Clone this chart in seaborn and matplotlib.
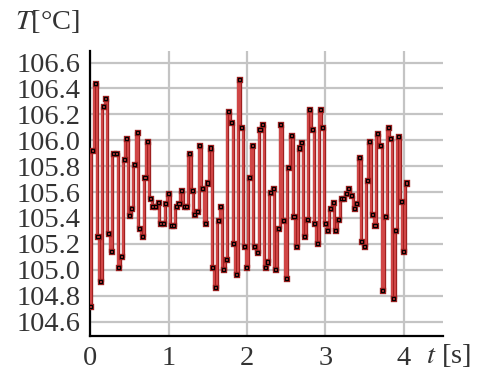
import numpy as np
import pandas as pd
import matplotlib
matplotlib.use("Agg")
import matplotlib.pyplot as plt
import matplotlib.patheffects as pe
from matplotlib.ticker import MultipleLocator
import seaborn as sns

# sampling interval (s) and measured temperatures (°C)
dt = 1.0 / 30.0
temps = [
    104.72, 105.92, 106.44, 105.26, 104.91, 106.26, 106.32, 105.28, 105.14, 105.90,
    105.90, 105.02, 105.10, 105.85, 106.01, 105.42, 105.47, 105.81, 106.06, 105.32,
    105.26, 105.71, 105.99, 105.55, 105.49, 105.49, 105.52, 105.36, 105.36, 105.51,
    105.59, 105.34, 105.34, 105.49, 105.51, 105.61, 105.49, 105.49, 105.90, 105.61,
    105.43, 105.45, 105.96, 105.63, 105.36, 105.67, 105.94, 105.02, 104.86, 105.38,
    105.49, 105.00, 105.08, 106.22, 106.14, 105.20, 104.96, 106.47, 106.10, 105.18,
    105.02, 105.71, 105.96, 105.18, 105.13, 106.08, 106.12, 105.02, 105.06, 105.60,
    105.63, 105.00, 105.32, 106.12, 105.38, 104.93, 105.79, 106.04, 105.41, 105.18,
    105.94, 105.98, 105.26, 105.39, 106.24, 106.08, 105.36, 105.20, 106.24, 106.10,
    105.36, 105.30, 105.47, 105.52, 105.30, 105.39, 105.55, 105.55, 105.59, 105.63,
    105.57, 105.47, 105.51, 105.87, 105.22, 105.18, 105.69, 105.99, 105.43, 105.34,
    106.05, 105.96, 104.84, 105.41, 106.10, 106.01, 104.78, 105.30, 106.03, 105.53,
    105.14, 105.67,
]
times = [i * dt for i in range(len(temps))]
x_ticks = [0, 1, 2, 3, 4]
y_ticks = [104.6, 104.8, 105.0, 105.2, 105.4, 105.6, 105.8, 106.0, 106.2, 106.4, 106.6]

df = pd.DataFrame({"t": times, "T": temps})

sns.set_style("white")
plt.rcParams["font.family"] = ["Liberation Serif", "DejaVu Serif"]
plt.rcParams["mathtext.fontset"] = "stix"

fig = plt.figure(figsize=(4.82, 3.74), dpi=100)
ax = fig.add_axes([0.187, 0.102, 0.732, 0.762])

sns.lineplot(data=df, x="t", y="T", ax=ax, color="#d24848", linewidth=1.4,
             drawstyle="steps-mid",
             marker="s", markersize=2.2, markerfacecolor="#cc3b3b",
             markeredgecolor="black", markeredgewidth=0.9, sort=False,
             estimator=None, zorder=3,
             path_effects=[pe.Stroke(linewidth=2.4, foreground="#9e2020"), pe.Normal()])

ax.set_xlim(0, 4.5)
ax.set_ylim(104.49, 106.69)
ax.set_xticks(x_ticks)
ax.set_xticklabels([str(v) for v in x_ticks])
ax.set_yticks(y_ticks)
ax.set_yticklabels([f"{v:.1f}" for v in y_ticks])
ax.xaxis.set_minor_locator(MultipleLocator(0.5))
ax.yaxis.set_minor_locator(MultipleLocator(0.1))

ax.grid(True, which="major", color="#c4c4c4", linewidth=1.6, zorder=0)
ax.set_axisbelow(True)
for s in ["top", "right"]:
    ax.spines[s].set_visible(False)
for s in ["left", "bottom"]:
    ax.spines[s].set_color("black")
    ax.spines[s].set_linewidth(1.6)

ax.tick_params(axis="both", which="major", direction="out", length=5, width=1.6,
               color="black", labelsize=20.5, labelcolor="#333333", pad=2)
ax.tick_params(axis="both", which="minor", direction="out", length=4, width=1.6,
               color="black")
ax.set_xlabel("")
ax.set_ylabel("")

fig.text(0.032, 0.943, "$T$[°C]", fontsize=20.5, color="#333333", va="center", ha="left")
fig.text(0.883, 0.05, "$t$ [s]", fontsize=20.5, color="#333333", va="center", ha="left")

fig.savefig("out.png", dpi=100)
